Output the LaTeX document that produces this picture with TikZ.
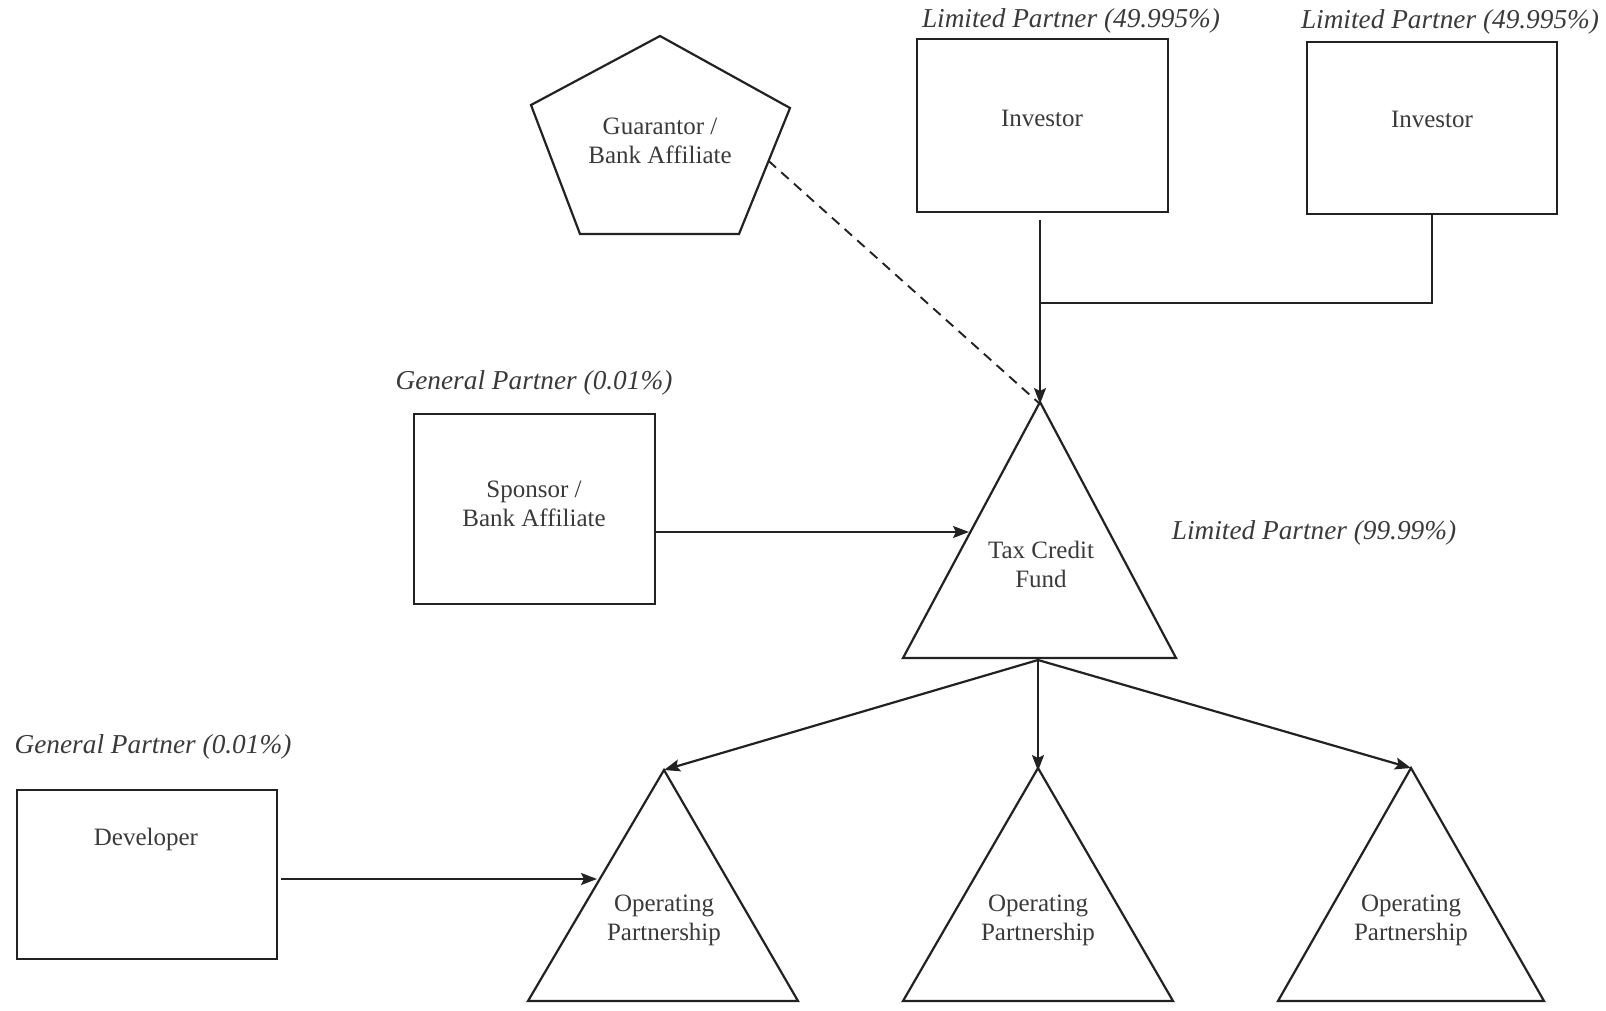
\documentclass[tikz,border=0pt]{standalone}
\usepackage{fontspec}
\setmainfont{Liberation Serif}
\usetikzlibrary{arrows.meta,calc}
\definecolor{ink}{HTML}{222222}
\definecolor{txt}{HTML}{3A3A3A}
\tikzset{
  shapeline/.style={draw=ink, line width=2.2pt, line join=miter},
  conn/.style={draw=ink, line width=2.2pt},
  arr/.style={conn, -{Stealth[length=16pt,width=12pt,inset=3pt]}},
  dashconn/.style={draw=ink, line width=1.9pt, dashed, dash pattern=on 10pt off 7pt},
  boxnode/.style={shapeline, rectangle, inner sep=0pt},
  intext/.style={text=txt, font=\fontsize{25}{29}\selectfont, align=center, inner sep=0pt},
  role/.style={text=txt, font=\fontsize{27.3}{30}\selectfont\itshape, inner sep=0pt}
}
\begin{document}
\begin{tikzpicture}[x=1pt,y=-1pt]
\useasboundingbox (0,0) rectangle (1606,1011);

% Guarantor pentagon
\coordinate (gT) at (660,36);
\coordinate (gUL) at (531,105);
\coordinate (gUR) at (790,108);
\coordinate (gBR) at (739,234);
\coordinate (gBL) at (580,234);
\draw[shapeline] (gT) -- (gUR) -- (gBR) -- (gBL) -- (gUL) -- cycle;
\node[intext] (guar) at (660,141) {Guarantor /\\Bank Affiliate};
\coordinate (gOut) at ($(gUR)!0.42!(gBR)$);

% Investors
\node[boxnode, minimum width=251pt, minimum height=173pt] (inv1) at (1042.5,125.5) {};
\node[intext] (inv1t) at (1042,118) {Investor};
\node[role] (lp1) at (1071,21) {Limited Partner (49.995\%)};
\node[boxnode, minimum width=250pt, minimum height=172pt] (inv2) at (1432,128) {};
\node[intext] (inv2t) at (1432,119) {Investor};
\node[role] (lp2) at (1450,22) {Limited Partner (49.995\%)};

% Sponsor
\node[role] (gp1) at (534,383) {General Partner (0.01\%)};
\node[boxnode, minimum width=241pt, minimum height=190pt] (spon) at (534.5,509) {};
\node[intext] (spont) at (534,504) {Sponsor /\\Bank Affiliate};

% Tax credit fund
\coordinate (tA) at (1040,402);
\coordinate (tL) at (903,658);
\coordinate (tR) at (1176,658);
\draw[shapeline] (tA) -- (tR) -- (tL) -- cycle;
\node[intext] (tcf) at (1041,564) {Tax Credit\\Fund};
\node[role] (lp3) at (1314,533) {Limited Partner (99.99\%)};
\coordinate (tB) at (1038,660);

% Developer
\node[role] (gp2) at (153,747) {General Partner (0.01\%)};
\node[boxnode, minimum width=260pt, minimum height=169pt] (dev) at (147,874.5) {};
\node[intext] (devt) at (146,839) {Developer};

% Operating partnerships
\coordinate (o1A) at (664,770);
\coordinate (o1L) at (528,1001);
\coordinate (o1R) at (798,1001);
\draw[shapeline] (o1A) -- (o1R) -- (o1L) -- cycle;
\node[intext] (op1) at (664,920) {Operating\\Partnership};

\coordinate (o2A) at (1038,768);
\coordinate (o2L) at (903,1001);
\coordinate (o2R) at (1173,1001);
\draw[shapeline] (o2A) -- (o2R) -- (o2L) -- cycle;
\node[intext] (op2) at (1038,920) {Operating\\Partnership};

\coordinate (o3A) at (1411,768);
\coordinate (o3L) at (1278,1001);
\coordinate (o3R) at (1544,1001);
\draw[shapeline] (o3A) -- (o3R) -- (o3L) -- cycle;
\node[intext] (op3) at (1411,920) {Operating\\Partnership};

% Connectors
\coordinate (join) at (1040,303);
\draw[conn] (inv2.south) |- (join);
\draw[arr] ([yshift=-7pt]inv1.south -| join) -- ([yshift=-2pt]tA);
\draw[dashconn] (gOut) -- ([yshift=-2pt]tA);
\draw[arr] ([yshift=-23pt]spon.east) -- ([yshift=-23pt]spon.east -| 969,0);
\draw[arr] (tB) -- (o1A);
\draw[arr] (tB) -- ([yshift=-3pt]o2A);
\draw[arr] (tB) -- (o3A);
\draw[arr] ([xshift=3pt,yshift=-4.5pt]dev.east) -- ([xshift=3pt,yshift=-4.5pt]dev.east -| 594,0);
\end{tikzpicture}
\end{document}
